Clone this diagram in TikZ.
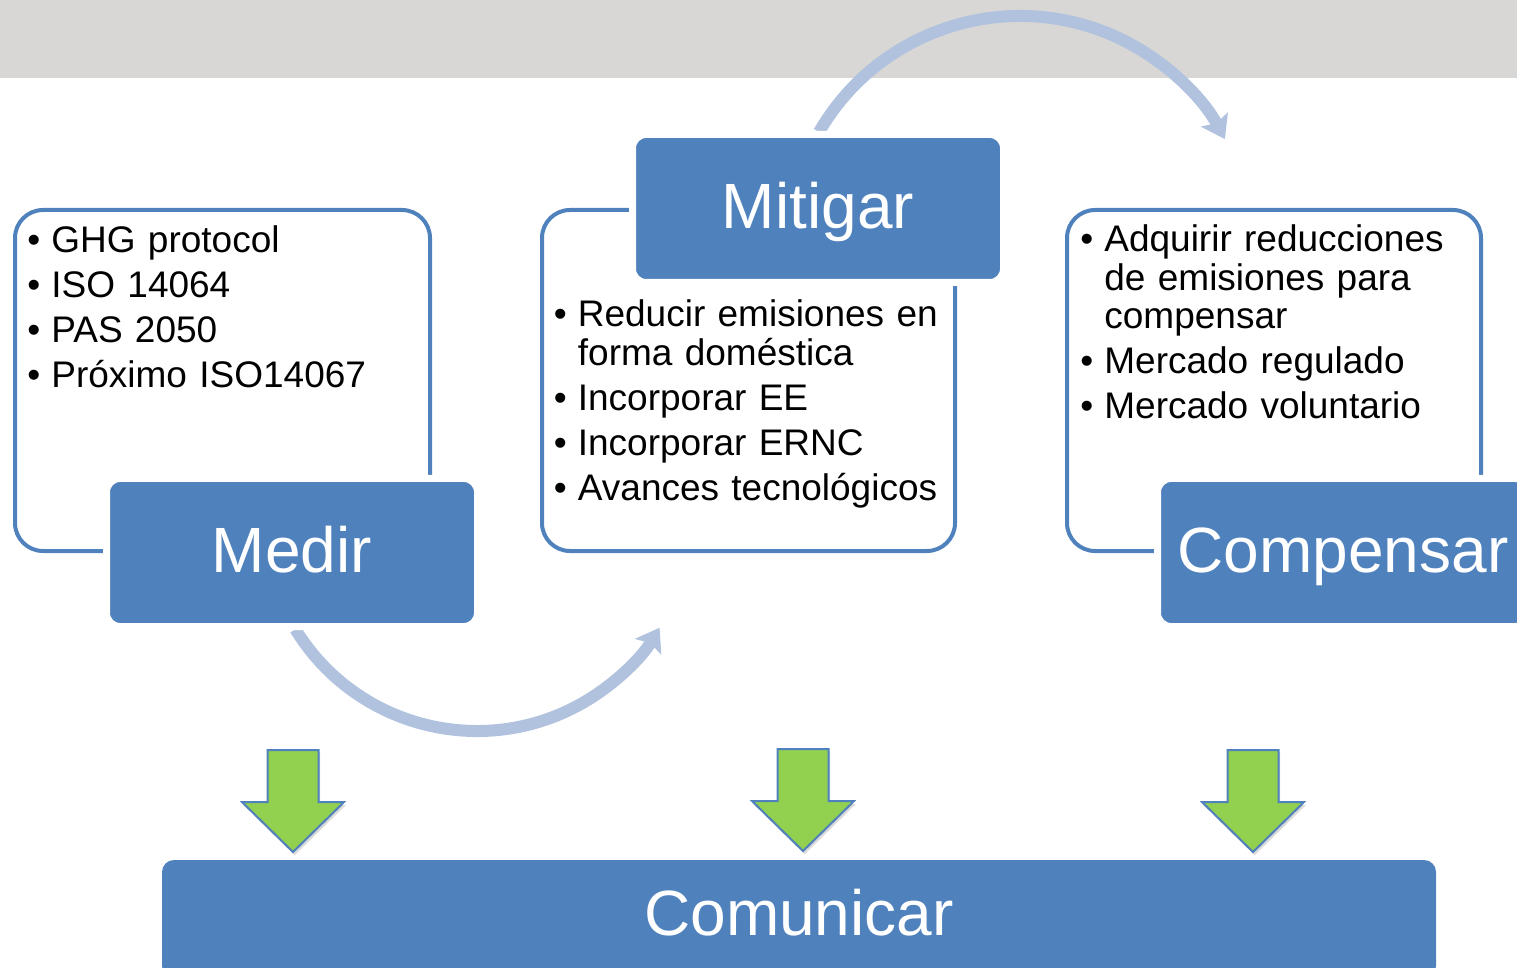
\documentclass[tikz,border=0pt]{standalone}
\usepackage{fontspec}
\setmainfont{Liberation Sans}
\usetikzlibrary{arrows.meta,shadows}
\definecolor{boxblue}{HTML}{4F81BD}
\definecolor{arcblue}{HTML}{B1C2DE}
\definecolor{bandgray}{HTML}{D8D7D5}
\definecolor{arrowgreen}{HTML}{92D050}
\newcommand\bodyfont{\fontsize{18.5pt}{19.25pt}\selectfont}
\newcommand\titlefont{\fontsize{32pt}{38pt}\selectfont}
\newcommand\bitem[1]{\hangindent=12pt\hangafter=1\makebox[12pt][l]{\textbullet}#1\par}
\begin{document}
\begin{tikzpicture}[x=0.5pt,y=-0.5pt,
  outline/.style={draw=boxblue,line width=2pt,rounded corners=14pt,minimum width=#1,minimum height=170.5pt,inner sep=0pt},
  titlebox/.style={fill=boxblue,draw=white,line width=3.5pt,rounded corners=6.75pt,minimum width=185.5pt,minimum height=74pt,inner sep=0pt,text=white,font=\titlefont,text height=23pt,text depth=3.2pt},
  bodytext/.style={anchor=base west,inner sep=0pt,text width=230pt,font=\bodyfont},
  arcline/.style={draw=arcblue,line width=6pt,-{Stealth[length=11pt,width=15pt,inset=2pt]}},
  garrow/.style={fill=arrowgreen,draw=boxblue,line width=1pt,line join=miter,drop shadow={shadow xshift=0.8pt,shadow yshift=-1.6pt,opacity=0.3}},
  greenarrow/.pic={\path[garrow] (-25.5,0) -- (25.5,0) -- (25.5,52) -- (51,52) -- (0,102) -- (-51,52) -- (-25.5,52) -- cycle;}
]
\useasboundingbox (0,0) rectangle (1517,968);
\clip (0,0) rectangle (1517,968);

% grey header band
\fill[bandgray] (0,0) rectangle (1517,78);

% curved arrows
\coordinate (arcAstart) at (295.4,629.3);
\coordinate (arcBstart) at (819.1,132);
\draw[arcline] (arcAstart) arc[start angle=148.5, end angle=31, radius=213];
\draw[arcline] (arcBstart) arc[start angle=-150, end angle=-28, radius=232];

% outline boxes
\node[outline=207.5pt] (medirOut) at (222.5,380.5) {};
\node[outline=206.5pt] (mitigarOut) at (748.5,380.5) {};
\node[outline=207pt] (compOut) at (1274,380.5) {};

% title boxes
\node[titlebox] (medir) at (292,552.5) {Medir};
\node[titlebox] (mitigar) at (818,208.5) {Mitigar};
\node[titlebox] (compensar) at (1343,552.5) {Compensar};

% bullet texts
\node[bodytext] (medirTxt) at (27,253) {\setlength{\parskip}{3.25pt}%
\bitem{GHG protocol}\bitem{ISO 14064}\bitem{PAS 2050}\bitem{Próximo ISO14067}};
\node[bodytext] (mitigarTxt) at (553.5,326.7) {\setlength{\parskip}{3.25pt}%
\bitem{Reducir emisiones en\newline forma doméstica}\bitem{Incorporar EE}\bitem{Incorporar ERNC}\bitem{Avances tecnológicos}};
\node[bodytext] (compTxt) at (1080,252) {\setlength{\parskip}{3.25pt}%
\bitem{Adquirir reducciones\newline de emisiones para\newline compensar}\bitem{Mercado regulado}\bitem{Mercado voluntario}};

% green down arrows
\pic (gaLeft) at (293,750) {greenarrow};
\pic (gaMid) at (803,749) {greenarrow};
\pic (gaRight) at (1253,750) {greenarrow};

% bottom box
\node[fill=boxblue,rounded corners=6pt,minimum width=637pt,minimum height=59pt,inner sep=0pt,text=white,font=\titlefont,text height=23pt,text depth=7pt] (comunicar) at (799,919) {Comunicar};
\end{tikzpicture}
\end{document}
